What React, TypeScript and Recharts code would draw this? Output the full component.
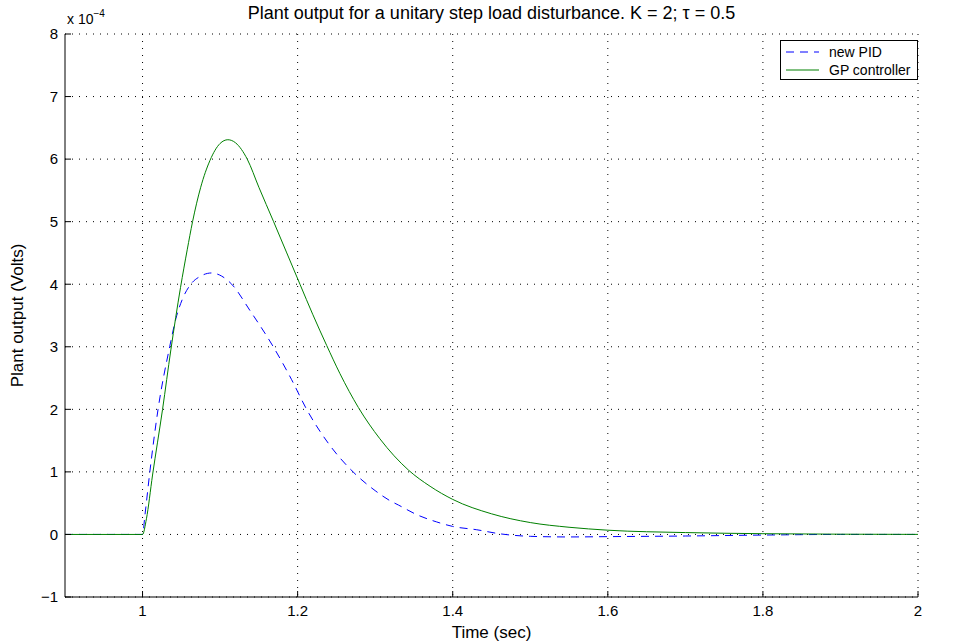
import { LineChart, Line, XAxis, YAxis, CartesianGrid } from "recharts";

// times in sec, outputs in units of 1e-4 V
const pidTime = [0.9, 1.0, 1.003, 1.0094, 1.02, 1.035, 1.043, 1.051, 1.061, 1.075, 1.089, 1.102, 1.115, 1.1385, 1.1686, 1.192, 1.2116, 1.24, 1.274, 1.3, 1.319, 1.33, 1.3548, 1.3793, 1.4, 1.431, 1.461, 1.5, 1.55, 1.6, 1.7, 1.8, 1.9, 2.0];
const pidOutput = [0, 0, 0.3, 1, 2, 3, 3.45, 3.75, 3.98, 4.13, 4.18, 4.13, 4.0, 3.58, 3, 2.48, 2, 1.45, 0.97, 0.7, 0.54, 0.47, 0.31, 0.2, 0.128, 0.075, 0.01, -0.03, -0.04, -0.035, -0.025, -0.01, 0, 0];

const gpTime = [0.9, 1.0, 1.005, 1.0129, 1.0258, 1.0365, 1.049, 1.0576, 1.0645, 1.075, 1.087, 1.1, 1.11, 1.12, 1.135, 1.15, 1.169, 1.186, 1.203, 1.2194, 1.2375, 1.2546, 1.2783, 1.306, 1.3428, 1.3708, 1.4, 1.45, 1.5, 1.55, 1.6, 1.7, 1.8, 1.9, 2.0];
const gpOutput = [0, 0, 0.25, 0.95, 2, 2.95, 3.95, 4.55, 5, 5.55, 5.98, 6.25, 6.31, 6.26, 6, 5.55, 5, 4.5, 4, 3.52, 3.02, 2.57, 2.03, 1.53, 1.03, 0.77, 0.56, 0.33, 0.19, 0.115, 0.068, 0.03, 0.012, 0.004, 0.001];

const xTicks = [1, 1.2, 1.4, 1.6, 1.8, 2];
const yTicks = [-1, 0, 1, 2, 3, 4, 5, 6, 7, 8];

const pidData = pidTime.map((t, i) => ({ t, v: pidOutput[i] }));
const gpData = gpTime.map((t, i) => ({ t, v: gpOutput[i] }));

const font = "'Liberation Sans', Arial, Helvetica, sans-serif";

function LegendBox() {
  return (
    <div
      style={{
        position: "absolute",
        left: 780,
        top: 40,
        border: "1px solid #000",
        background: "#fff",
        width: 136,
        height: 38,
        fontFamily: font,
        fontSize: 14,
        color: "#000",
      }}
    >
      <div style={{ display: "flex", alignItems: "center", height: 18, marginTop: 2 }}>
        <svg width={44} height={10}>
          <line x1={5} y1={5} x2={38} y2={5} stroke="#0000ff" strokeDasharray="8 6" />
        </svg>
        <span style={{ marginLeft: 4 }}>new PID</span>
      </div>
      <div style={{ display: "flex", alignItems: "center", height: 18 }}>
        <svg width={44} height={10}>
          <line x1={5} y1={5} x2={38} y2={5} stroke="#008000" />
        </svg>
        <span style={{ marginLeft: 4 }}>GP controller</span>
      </div>
    </div>
  );
}

const minus = (v: number) => String(v).replace("-", "\u2212");

export default function App() {
  return (
    <div style={{ position: "absolute", left: 0, top: 0, width: 953, height: 643, background: "#fff" }}>
      <LineChart
        width={953}
        height={643}
        margin={{ top: 34, right: 35, bottom: 0, left: 0 }}
        style={{ fontFamily: font }}
      >
        <CartesianGrid
          stroke="#000"
          strokeDasharray="1 6"
          horizontalValues={yTicks}
          verticalValues={xTicks}
        />
        <XAxis
          type="number"
          dataKey="t"
          domain={[0.9, 2]}
          ticks={xTicks}
          height={46}
          allowDataOverflow
          stroke="#000"
          tickSize={-6}
          tickMargin={14}
          tick={{ fill: "#000", fontSize: 15 }}
          label={{ value: "Time (sec)", position: "insideBottom", offset: 5, fill: "#000", fontSize: 17 }}
        />
        <XAxis
          xAxisId="top"
          orientation="top"
          type="number"
          domain={[0.9, 2]}
          ticks={xTicks}
          height={0}
          stroke="#000"
          tickSize={6}
          tickFormatter={() => ""}
        />
        <YAxis
          type="number"
          domain={[-1, 8]}
          ticks={yTicks}
          width={65}
          allowDataOverflow
          stroke="#000"
          tickSize={-6}
          tickMargin={13}
          tickFormatter={minus}
          tick={{ fill: "#000", fontSize: 15 }}
          label={{ value: "Plant output (Volts)", angle: -90, position: "insideLeft", offset: 17, fill: "#000", fontSize: 17, style: { textAnchor: "middle" } }}
        />
        <YAxis
          yAxisId="right"
          orientation="right"
          type="number"
          domain={[-1, 8]}
          ticks={yTicks}
          width={0}
          stroke="#000"
          tickSize={-6}
          tickFormatter={() => ""}
        />
        <Line
          data={pidData}
          dataKey="v"
          name="new PID"
          type="monotone"
          stroke="#0000ff"
          strokeWidth={1}
          strokeDasharray="8 6"
          dot={false}
          isAnimationActive={false}
        />
        <Line
          data={gpData}
          dataKey="v"
          name="GP controller"
          type="monotone"
          stroke="#008000"
          strokeWidth={1}
          dot={false}
          isAnimationActive={false}
        />
      </LineChart>
      <div
        style={{
          position: "absolute",
          left: 65,
          width: 853,
          top: 3,
          textAlign: "center",
          fontFamily: font,
          fontSize: 18,
          lineHeight: "20px",
        }}
      >
        Plant output for a unitary step load disturbance. K = 2; τ = 0.5
      </div>
      <div style={{ position: "absolute", left: 67, top: 11, fontFamily: font, fontSize: 14, lineHeight: "16px" }}>
        x 10<sup style={{ fontSize: 10, verticalAlign: 7, lineHeight: 0 }}>−4</sup>
      </div>
      <LegendBox />
    </div>
  );
}
